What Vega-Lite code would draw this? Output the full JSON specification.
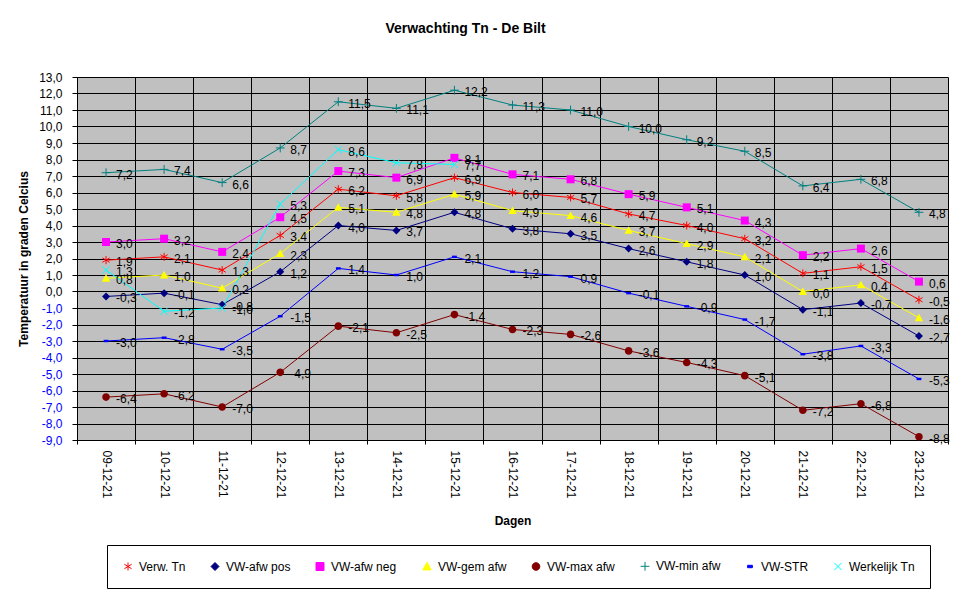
{
  "$schema": "https://vega.github.io/schema/vega-lite/v6.json",
  "width": 871,
  "height": 363,
  "autosize": "none",
  "padding": {"left": 77, "top": 77, "right": 27, "bottom": 158},
  "background": "white",
  "config": {
    "locale": {"number": {"decimal": ",", "thousands": ".", "grouping": [3], "currency": ["", " €"], "minus": "-"}},
    "view": {"stroke": null, "fill": "#C0C0C0"},
    "font": "Liberation Sans"
  },
  "title": {"text": "Verwachting Tn - De Bilt", "fontSize": 14, "fontWeight": "bold", "color": "black", "anchor": "middle", "dx": -47, "offset": 35, "font": "Liberation Sans"},
  "data": {"values": [
    {"date": "09-12-21", "series": "Verw. Tn", "value": 1.9},
    {"date": "10-12-21", "series": "Verw. Tn", "value": 2.1},
    {"date": "11-12-21", "series": "Verw. Tn", "value": 1.3},
    {"date": "12-12-21", "series": "Verw. Tn", "value": 3.4},
    {"date": "13-12-21", "series": "Verw. Tn", "value": 6.2},
    {"date": "14-12-21", "series": "Verw. Tn", "value": 5.8},
    {"date": "15-12-21", "series": "Verw. Tn", "value": 6.9},
    {"date": "16-12-21", "series": "Verw. Tn", "value": 6.0},
    {"date": "17-12-21", "series": "Verw. Tn", "value": 5.7},
    {"date": "18-12-21", "series": "Verw. Tn", "value": 4.7},
    {"date": "19-12-21", "series": "Verw. Tn", "value": 4.0},
    {"date": "20-12-21", "series": "Verw. Tn", "value": 3.2},
    {"date": "21-12-21", "series": "Verw. Tn", "value": 1.1},
    {"date": "22-12-21", "series": "Verw. Tn", "value": 1.5},
    {"date": "23-12-21", "series": "Verw. Tn", "value": -0.5},
    {"date": "09-12-21", "series": "VW-afw pos", "value": -0.3},
    {"date": "10-12-21", "series": "VW-afw pos", "value": -0.1},
    {"date": "11-12-21", "series": "VW-afw pos", "value": -0.8},
    {"date": "12-12-21", "series": "VW-afw pos", "value": 1.2},
    {"date": "13-12-21", "series": "VW-afw pos", "value": 4.0},
    {"date": "14-12-21", "series": "VW-afw pos", "value": 3.7},
    {"date": "15-12-21", "series": "VW-afw pos", "value": 4.8},
    {"date": "16-12-21", "series": "VW-afw pos", "value": 3.8},
    {"date": "17-12-21", "series": "VW-afw pos", "value": 3.5},
    {"date": "18-12-21", "series": "VW-afw pos", "value": 2.6},
    {"date": "19-12-21", "series": "VW-afw pos", "value": 1.8},
    {"date": "20-12-21", "series": "VW-afw pos", "value": 1.0},
    {"date": "21-12-21", "series": "VW-afw pos", "value": -1.1},
    {"date": "22-12-21", "series": "VW-afw pos", "value": -0.7},
    {"date": "23-12-21", "series": "VW-afw pos", "value": -2.7},
    {"date": "09-12-21", "series": "VW-afw neg", "value": 3.0},
    {"date": "10-12-21", "series": "VW-afw neg", "value": 3.2},
    {"date": "11-12-21", "series": "VW-afw neg", "value": 2.4},
    {"date": "12-12-21", "series": "VW-afw neg", "value": 4.5},
    {"date": "13-12-21", "series": "VW-afw neg", "value": 7.3},
    {"date": "14-12-21", "series": "VW-afw neg", "value": 6.9},
    {"date": "15-12-21", "series": "VW-afw neg", "value": 8.1},
    {"date": "16-12-21", "series": "VW-afw neg", "value": 7.1},
    {"date": "17-12-21", "series": "VW-afw neg", "value": 6.8},
    {"date": "18-12-21", "series": "VW-afw neg", "value": 5.9},
    {"date": "19-12-21", "series": "VW-afw neg", "value": 5.1},
    {"date": "20-12-21", "series": "VW-afw neg", "value": 4.3},
    {"date": "21-12-21", "series": "VW-afw neg", "value": 2.2},
    {"date": "22-12-21", "series": "VW-afw neg", "value": 2.6},
    {"date": "23-12-21", "series": "VW-afw neg", "value": 0.6},
    {"date": "09-12-21", "series": "VW-gem afw", "value": 0.8},
    {"date": "10-12-21", "series": "VW-gem afw", "value": 1.0},
    {"date": "11-12-21", "series": "VW-gem afw", "value": 0.2},
    {"date": "12-12-21", "series": "VW-gem afw", "value": 2.3},
    {"date": "13-12-21", "series": "VW-gem afw", "value": 5.1},
    {"date": "14-12-21", "series": "VW-gem afw", "value": 4.8},
    {"date": "15-12-21", "series": "VW-gem afw", "value": 5.9},
    {"date": "16-12-21", "series": "VW-gem afw", "value": 4.9},
    {"date": "17-12-21", "series": "VW-gem afw", "value": 4.6},
    {"date": "18-12-21", "series": "VW-gem afw", "value": 3.7},
    {"date": "19-12-21", "series": "VW-gem afw", "value": 2.9},
    {"date": "20-12-21", "series": "VW-gem afw", "value": 2.1},
    {"date": "21-12-21", "series": "VW-gem afw", "value": 0.0},
    {"date": "22-12-21", "series": "VW-gem afw", "value": 0.4},
    {"date": "23-12-21", "series": "VW-gem afw", "value": -1.6},
    {"date": "09-12-21", "series": "VW-max afw", "value": -6.4},
    {"date": "10-12-21", "series": "VW-max afw", "value": -6.2},
    {"date": "11-12-21", "series": "VW-max afw", "value": -7.0},
    {"date": "12-12-21", "series": "VW-max afw", "value": -4.9},
    {"date": "13-12-21", "series": "VW-max afw", "value": -2.1},
    {"date": "14-12-21", "series": "VW-max afw", "value": -2.5},
    {"date": "15-12-21", "series": "VW-max afw", "value": -1.4},
    {"date": "16-12-21", "series": "VW-max afw", "value": -2.3},
    {"date": "17-12-21", "series": "VW-max afw", "value": -2.6},
    {"date": "18-12-21", "series": "VW-max afw", "value": -3.6},
    {"date": "19-12-21", "series": "VW-max afw", "value": -4.3},
    {"date": "20-12-21", "series": "VW-max afw", "value": -5.1},
    {"date": "21-12-21", "series": "VW-max afw", "value": -7.2},
    {"date": "22-12-21", "series": "VW-max afw", "value": -6.8},
    {"date": "23-12-21", "series": "VW-max afw", "value": -8.8},
    {"date": "09-12-21", "series": "VW-min afw", "value": 7.2},
    {"date": "10-12-21", "series": "VW-min afw", "value": 7.4},
    {"date": "11-12-21", "series": "VW-min afw", "value": 6.6},
    {"date": "12-12-21", "series": "VW-min afw", "value": 8.7},
    {"date": "13-12-21", "series": "VW-min afw", "value": 11.5},
    {"date": "14-12-21", "series": "VW-min afw", "value": 11.1},
    {"date": "15-12-21", "series": "VW-min afw", "value": 12.2},
    {"date": "16-12-21", "series": "VW-min afw", "value": 11.3},
    {"date": "17-12-21", "series": "VW-min afw", "value": 11.0},
    {"date": "18-12-21", "series": "VW-min afw", "value": 10.0},
    {"date": "19-12-21", "series": "VW-min afw", "value": 9.2},
    {"date": "20-12-21", "series": "VW-min afw", "value": 8.5},
    {"date": "21-12-21", "series": "VW-min afw", "value": 6.4},
    {"date": "22-12-21", "series": "VW-min afw", "value": 6.8},
    {"date": "23-12-21", "series": "VW-min afw", "value": 4.8},
    {"date": "09-12-21", "series": "VW-STR", "value": -3.0},
    {"date": "10-12-21", "series": "VW-STR", "value": -2.8},
    {"date": "11-12-21", "series": "VW-STR", "value": -3.5},
    {"date": "12-12-21", "series": "VW-STR", "value": -1.5},
    {"date": "13-12-21", "series": "VW-STR", "value": 1.4},
    {"date": "14-12-21", "series": "VW-STR", "value": 1.0},
    {"date": "15-12-21", "series": "VW-STR", "value": 2.1},
    {"date": "16-12-21", "series": "VW-STR", "value": 1.2},
    {"date": "17-12-21", "series": "VW-STR", "value": 0.9},
    {"date": "18-12-21", "series": "VW-STR", "value": -0.1},
    {"date": "19-12-21", "series": "VW-STR", "value": -0.9},
    {"date": "20-12-21", "series": "VW-STR", "value": -1.7},
    {"date": "21-12-21", "series": "VW-STR", "value": -3.8},
    {"date": "22-12-21", "series": "VW-STR", "value": -3.3},
    {"date": "23-12-21", "series": "VW-STR", "value": -5.3},
    {"date": "09-12-21", "series": "Werkelijk Tn", "value": 1.3},
    {"date": "10-12-21", "series": "Werkelijk Tn", "value": -1.2},
    {"date": "11-12-21", "series": "Werkelijk Tn", "value": -1.0},
    {"date": "12-12-21", "series": "Werkelijk Tn", "value": 5.3},
    {"date": "13-12-21", "series": "Werkelijk Tn", "value": 8.6},
    {"date": "14-12-21", "series": "Werkelijk Tn", "value": 7.8},
    {"date": "15-12-21", "series": "Werkelijk Tn", "value": 7.7}
  ]},
  "encoding": {
    "x": {
      "field": "date", "type": "ordinal",
      "scale": {"type": "band", "paddingInner": 0, "paddingOuter": 0},
      "axis": {
        "title": "Dagen", "titleFontSize": 12, "titleFontWeight": "bold", "titleColor": "black", "titleY": 80, "titleBaseline": "middle",
        "tickBand": "extent", "grid": true, "gridColor": "black", "gridOpacity": 1, "gridWidth": 1,
        "domainColor": "black", "tickColor": "black", "tickSize": 4,
        "labelAngle": 90, "labelAlign": "left", "labelBaseline": "middle", "labelPadding": 6, "labelFontSize": 12, "labelColor": "black", "labelOverlap": false
      }
    },
    "y": {
      "field": "value", "type": "quantitative",
      "scale": {"domain": [-9, 13], "nice": false, "zero": false},
      "axis": {
        "title": "Temperatuur in graden Celcius", "titleFontSize": 12, "titleFontWeight": "bold", "titleColor": "black",
        "titleX": -54, "titleY": 181.5, "titleAngle": 270, "titleAlign": "center", "titleBaseline": "middle",
        "values": [-9, -8, -7, -6, -5, -4, -3, -2, -1, 0, 1, 2, 3, 4, 5, 6, 7, 8, 9, 10, 11, 12, 13],
        "format": ".1f", "grid": true, "gridColor": "black", "gridOpacity": 1, "gridWidth": 1,
        "domainColor": "black", "tickColor": "black", "tickSize": 5, "labelPadding": 10, "labelFontSize": 12,
        "labelColor": {"condition": {"test": "datum.value < 0", "value": "#0000FF"}, "value": "black"}
      }
    },
    "color": {
      "field": "series", "type": "nominal",
      "scale": {"domain": ["Verw. Tn", "VW-afw pos", "VW-afw neg", "VW-gem afw", "VW-max afw", "VW-min afw", "VW-STR", "Werkelijk Tn"], "range": ["#FF0000", "#000080", "#FF00FF", "#FFFF00", "#800000", "#008080", "#0000FF", "#00FFFF"]},
      "legend": {
        "title": null, "orient": "none", "legendX": 30, "legendY": 468, "direction": "horizontal", "columns": 8,
        "strokeColor": "black", "fillColor": "white", "padding": 15, "symbolSize": 64, "symbolStrokeWidth": 1,
        "labelFontSize": 12, "labelColor": "black", "labelOffset": 5, "columnPadding": 23, "labelLimit": 200
      }
    }
  },
  "layer": [
    {
      "mark": {"type": "line", "strokeWidth": 1}
    },
    {
      "transform": [{"filter": {"field": "series", "oneOf": ["VW-afw pos", "VW-afw neg", "VW-gem afw", "VW-max afw", "VW-STR"]}}],
      "mark": {"type": "point", "filled": true, "size": 64, "opacity": 1},
      "encoding": {
        "shape": {
          "field": "series", "type": "nominal",
          "scale": {"domain": ["Verw. Tn", "VW-afw pos", "VW-afw neg", "VW-gem afw", "VW-max afw", "VW-min afw", "VW-STR", "Werkelijk Tn"], "range": ["M0,-1L0,1M-0.9,-0.55L0.9,0.55M-0.9,0.55L0.9,-0.55", "M0,-1L1,0L0,1L-1,0Z", "M-1,-1L1,-1L1,1L-1,1Z", "M0,-1.05L1.05,0.85L-1.05,0.85Z", "M-0.95,0A0.95,0.95,0,1,0,0.95,0A0.95,0.95,0,1,0,-0.95,0Z", "M-1.1,0L1.1,0M0,-1.1L0,1.1", "M-0.6,-0.3L0.6,-0.3L0.6,0.3L-0.6,0.3Z", "M-0.9,-0.9L0.9,0.9M-0.9,0.9L0.9,-0.9"]}
        }
      }
    },
    {
      "transform": [{"filter": {"field": "series", "oneOf": ["Verw. Tn", "VW-min afw", "Werkelijk Tn"]}}],
      "mark": {"type": "point", "filled": false, "size": 64, "strokeWidth": 1, "opacity": 1},
      "encoding": {
        "shape": {"field": "series", "type": "nominal"}
      }
    },
    {
      "mark": {"type": "text", "align": "left", "baseline": "middle", "dx": 10, "dy": 2, "fontSize": 12},
      "encoding": {
        "text": {"field": "value", "type": "quantitative", "format": ".1f"},
        "color": {"value": "black"}
      }
    }
  ]
}
